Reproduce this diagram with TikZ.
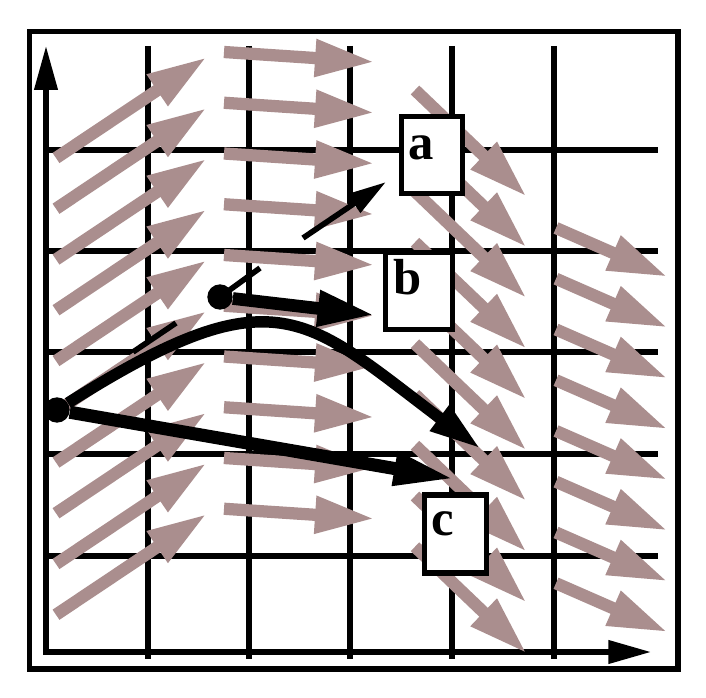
\documentclass[tikz,border=0pt]{standalone}
\usepackage{fontspec}
\setmainfont{Liberation Serif}
\usetikzlibrary{arrows.meta}
\definecolor{mauve}{RGB}{170,142,142}
\begin{document}
\begin{tikzpicture}[x=0.75pt,y=-0.75pt,
  gridline/.style={line width=3.9pt},
  fieldarrow/.style={draw=mauve, line width=9.2pt, -{Triangle[length=45pt,width=26pt]}},
  dotnode/.style={circle, fill=black, inner sep=0pt, minimum size=19pt},
  bigarrow/.style={line width=9.8pt, -{Triangle[length=46pt,width=23.5pt]}},
  dotarrow/.style={line width=9.5pt, -{Triangle[length=43pt,width=25pt]}},
  curvearrow/.style={line width=8.6pt, -{Triangle[length=39pt,width=22pt]}},
  thinline/.style={line width=4.2pt},
  thinarrow/.style={line width=4.2pt, -{Triangle[length=29pt,width=16pt]}},
  labelbox/.style={draw, fill=white, line width=3.9pt, inner sep=0pt},
  labeltext/.style={inner sep=0pt, anchor=base, font=\fontsize{38}{38}\selectfont\bfseries},
]
\useasboundingbox (0,0) rectangle (706,698);
\fill[white] (0,0) rectangle (706,698);

% grid
\foreach \x in {148,249,350,452,554} \draw[gridline] (\x,46) -- (\x,659);
\foreach \y in {150,251,352,454,556} \draw[gridline] (46,\y) -- (658,\y);

% axes
\coordinate (O) at (46,652);
\coordinate (ytip) at (46,46);
\coordinate (xtip) at (651,652);
\draw[gridline, {Triangle[length=33pt,width=17pt]}-{Triangle[length=32pt,width=17pt]}] (ytip) -- (O) -- (xtip);

% frame
\draw[line width=4pt] (29.5,31.5) rectangle (678,669);

% vector field
\foreach \k in {0,...,9} \draw[fieldarrow] (56,{158+50.75*\k}) -- ++(151,-101);
\foreach \k in {0,...,9} \draw[fieldarrow] (224,{52+50.75*\k}) -- ++(151,10);
\foreach \k in {0,...,9} \draw[fieldarrow] (415,{90+50.75*\k}) -- ++(112,107);
\foreach \k in {0,...,7} \draw[fieldarrow] (556,{228+50.75*\k}) -- ++(112,49);

% black elements
\node[dotnode] (p0) at (57,410) {};
\node[dotnode] (p1) at (220,297) {};
\coordinate (q0) at (455,479);
\coordinate (q1) at (481,449);
\coordinate (q2) at (375,315);
\draw[bigarrow] (p0) -- (q0);
\draw[curvearrow] (p0) .. controls (277,271) and (305,317) .. (q1);
\draw[dotarrow] (p1) -- (q2);

\coordinate (d0) at (133,352);
\coordinate (d1) at (176,323);
\coordinate (d2) at (260,268);
\coordinate (d3) at (303,238);
\coordinate (d4) at (386,182);
\draw[thinline] (d0) -- (d1);
\draw[thinline] (p1.center) -- (d2);
\draw[thinarrow] (d3) -- (d4);

% boxes
\node[labelbox, minimum width=45.75pt, minimum height=57.75pt] (boxa) at (432,155) {};
\node[labelbox, minimum width=50pt, minimum height=57.75pt] (boxb) at (419,291) {};
\node[labelbox, minimum width=46pt, minimum height=58.5pt] (boxc) at (455.5,534) {};
\node[labeltext] (ta) at (421.5,160) {a};
\node[labeltext] (tb) at (408,295) {b};
\node[labeltext] (tc) at (442.5,535) {c};
\end{tikzpicture}
\end{document}
